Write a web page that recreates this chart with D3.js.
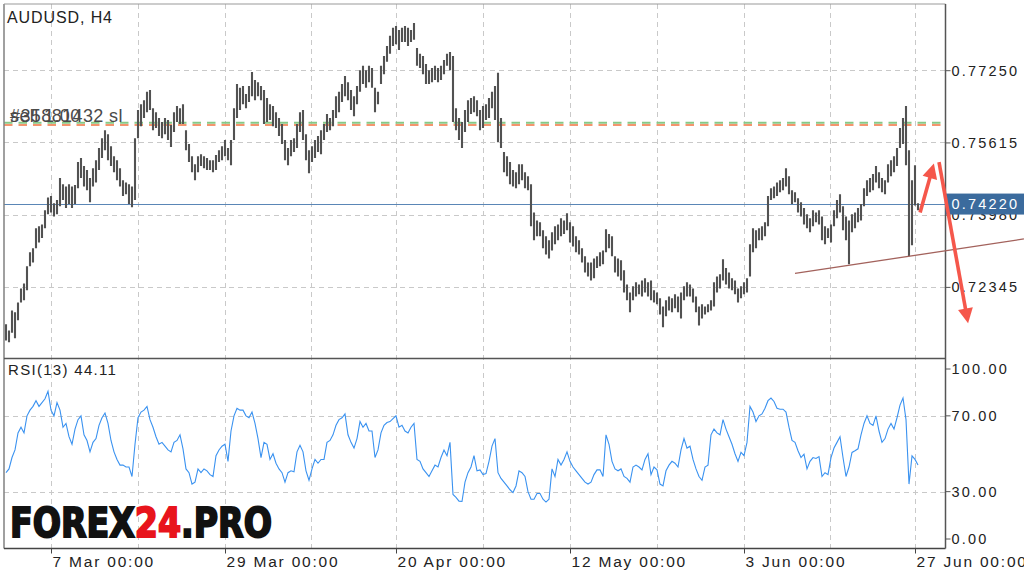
<!DOCTYPE html>
<html><head><meta charset="utf-8">
<script src="https://cdn.jsdelivr.net/npm/d3@7"></script>
<style>
html,body{margin:0;padding:0;background:#fff;}
svg{display:block;font-family:"Liberation Sans",Arial,sans-serif;}
</style></head><body>
<svg id="c" width="1024" height="577"></svg>
<script>
// ---- data ----
const symbolTitle = "AUDUSD, H4";
const rsiTitle = "RSI(13) 44.11";
const highs = [
0.7150,0.7136,0.7181,0.7177,0.7199,0.7231,0.7242,0.7281,0.7313,0.7322,
0.7367,0.7372,0.7376,0.7408,0.7437,0.7440,0.7424,0.7431,0.7481,0.7467,
0.7462,0.7467,0.7462,0.7465,0.7517,0.7526,0.7508,0.7499,0.7481,0.7503,
0.7521,0.7549,0.7571,0.7589,0.7580,0.7553,0.7530,0.7521,0.7503,0.7476,
0.7471,0.7467,0.7462,0.7571,0.7635,0.7648,0.7657,0.7676,0.7680,0.7639,
0.7630,0.7617,0.7608,0.7617,0.7612,0.7601,0.7630,0.7644,0.7639,0.7648,
0.7589,0.7558,0.7530,0.7512,0.7530,0.7535,0.7530,0.7526,0.7521,0.7521,
0.7533,0.7544,0.7553,0.7567,0.7549,0.7567,0.7639,0.7694,0.7685,0.7689,
0.7671,0.7689,0.7721,0.7703,0.7698,0.7689,0.7680,0.7662,0.7648,0.7644,
0.7630,0.7617,0.7603,0.7567,0.7549,0.7567,0.7571,0.7603,0.7630,0.7635,
0.7580,0.7544,0.7553,0.7567,0.7576,0.7589,0.7603,0.7626,0.7617,0.7635,
0.7666,0.7676,0.7694,0.7712,0.7698,0.7680,0.7666,0.7689,0.7725,0.7735,
0.7725,0.7735,0.7730,0.7685,0.7676,0.7735,0.7757,0.7780,0.7803,0.7821,
0.7825,0.7816,0.7821,0.7825,0.7821,0.7816,0.7832,0.7775,0.7762,0.7757,
0.7739,0.7725,0.7730,0.7735,0.7730,0.7735,0.7748,0.7762,0.7766,0.7757,
0.7639,0.7617,0.7608,0.7635,0.7657,0.7662,0.7666,0.7657,0.7635,0.7644,
0.7648,0.7662,0.7676,0.7689,0.7719,0.7617,0.7540,0.7530,0.7517,0.7499,
0.7494,0.7512,0.7512,0.7494,0.7485,0.7467,0.7403,0.7385,0.7381,0.7363,
0.7349,0.7340,0.7358,0.7372,0.7376,0.7390,0.7385,0.7401,0.7381,0.7372,
0.7349,0.7340,0.7322,0.7304,0.7290,0.7290,0.7299,0.7304,0.7313,0.7317,
0.7365,0.7354,0.7349,0.7304,0.7299,0.7295,0.7272,0.7240,0.7222,0.7236,
0.7245,0.7240,0.7249,0.7254,0.7245,0.7249,0.7227,0.7222,0.7209,0.7190,
0.7204,0.7213,0.7209,0.7218,0.7213,0.7222,0.7236,0.7245,0.7240,0.7231,
0.7213,0.7190,0.7195,0.7190,0.7195,0.7204,0.7245,0.7258,0.7263,0.7297,
0.7277,0.7267,0.7254,0.7249,0.7231,0.7236,0.7245,0.7254,0.7331,0.7367,
0.7363,0.7367,0.7372,0.7381,0.7440,0.7458,0.7462,0.7471,0.7476,0.7481,
0.7503,0.7485,0.7453,0.7449,0.7435,0.7426,0.7413,0.7399,0.7390,0.7408,
0.7403,0.7408,0.7394,0.7372,0.7367,0.7376,0.7408,0.7431,0.7444,0.7417,
0.7394,0.7385,0.7399,0.7403,0.7413,0.7422,0.7458,0.7476,0.7481,0.7490,
0.7508,0.7494,0.7481,0.7476,0.7512,0.7521,0.7530,0.7549,0.7594,0.7617,
0.7644,0.7544,0.7476,0.7510,0.7424];
const lows = [
0.7113,0.7109,0.7131,0.7118,0.7159,0.7199,0.7204,0.7227,0.7281,0.7290,
0.7322,0.7335,0.7345,0.7367,0.7399,0.7403,0.7394,0.7399,0.7417,0.7431,
0.7413,0.7422,0.7413,0.7422,0.7458,0.7481,0.7462,0.7453,0.7426,0.7462,
0.7471,0.7499,0.7526,0.7544,0.7521,0.7508,0.7494,0.7476,0.7462,0.7440,
0.7444,0.7422,0.7415,0.7431,0.7571,0.7598,0.7617,0.7630,0.7635,0.7589,
0.7594,0.7576,0.7571,0.7580,0.7567,0.7551,0.7585,0.7608,0.7603,0.7603,
0.7544,0.7517,0.7494,0.7476,0.7494,0.7508,0.7503,0.7499,0.7499,0.7494,
0.7499,0.7517,0.7521,0.7530,0.7521,0.7510,0.7567,0.7617,0.7635,0.7648,
0.7639,0.7653,0.7666,0.7657,0.7666,0.7657,0.7603,0.7608,0.7612,0.7598,
0.7594,0.7576,0.7558,0.7521,0.7510,0.7530,0.7540,0.7549,0.7585,0.7567,
0.7521,0.7492,0.7517,0.7526,0.7540,0.7535,0.7567,0.7585,0.7589,0.7598,
0.7617,0.7630,0.7653,0.7666,0.7657,0.7635,0.7621,0.7648,0.7676,0.7694,
0.7685,0.7698,0.7685,0.7630,0.7648,0.7694,0.7716,0.7744,0.7762,0.7780,
0.7784,0.7771,0.7789,0.7789,0.7780,0.7789,0.7794,0.7735,0.7730,0.7716,
0.7694,0.7694,0.7698,0.7703,0.7698,0.7703,0.7716,0.7735,0.7725,0.7608,
0.7589,0.7567,0.7549,0.7585,0.7608,0.7626,0.7630,0.7621,0.7589,0.7594,
0.7612,0.7617,0.7639,0.7612,0.7562,0.7549,0.7494,0.7485,0.7467,0.7462,
0.7458,0.7467,0.7476,0.7458,0.7453,0.7372,0.7340,0.7349,0.7349,0.7322,
0.7308,0.7299,0.7317,0.7331,0.7340,0.7349,0.7354,0.7363,0.7335,0.7326,
0.7313,0.7308,0.7290,0.7267,0.7258,0.7249,0.7254,0.7277,0.7281,0.7286,
0.7313,0.7322,0.7304,0.7267,0.7258,0.7249,0.7222,0.7204,0.7177,0.7204,
0.7213,0.7218,0.7213,0.7222,0.7213,0.7204,0.7199,0.7195,0.7172,0.7143,
0.7168,0.7181,0.7177,0.7186,0.7177,0.7163,0.7204,0.7213,0.7213,0.7199,
0.7177,0.7147,0.7163,0.7172,0.7177,0.7181,0.7190,0.7222,0.7231,0.7249,
0.7240,0.7231,0.7227,0.7218,0.7199,0.7209,0.7218,0.7222,0.7258,0.7313,
0.7322,0.7340,0.7340,0.7349,0.7372,0.7431,0.7435,0.7440,0.7449,0.7453,
0.7462,0.7444,0.7422,0.7426,0.7403,0.7394,0.7376,0.7367,0.7358,0.7372,
0.7381,0.7376,0.7340,0.7331,0.7345,0.7335,0.7372,0.7390,0.7403,0.7363,
0.7340,0.7286,0.7358,0.7367,0.7381,0.7385,0.7417,0.7440,0.7449,0.7453,
0.7471,0.7458,0.7449,0.7444,0.7471,0.7485,0.7494,0.7508,0.7549,0.7558,
0.7510,0.7304,0.7329,0.7419,0.7408];
const rsiValues = [
40,42,48,52,61,64,61,70,73,75,
78,75,77,79,83,73,70,77,73,64,
66,59,55,63,68,70,60,57,51,56,
58,65,69,71.5,66,57,51,47,44,44,
43,43,38,55,69,72,73,75,68,64,
59,55,56,54,52,51,56,57,60,52.6,
42,40,34,35,42,40,42,41,39,38,
49,52,54,55,46,62,70,74,73,73,
70,69,72,66,58,48,56,55,47,50,
45,42,40,35,40,41,40.5,51,54.5,51,
41,36,42,47,45,47,47,56,57,60,
65,68,69,71,60,56,53,58,67,64,
66,62,62,48,52,61,65,66.5,67,68.5,
70,64,65,62,61,64,66,47,46,42,
40,38,41,44,43,48,52,49,56,28.5,
27,25,24.8,35,40,43,49,41,41.5,39,
39.5,46,54,58,40,37,35,33,31,29.5,
33,41,40,38,30,26,26,29,29,26,
24.5,26,42,38,47,44,47,51,46,43,
41,39,37,35,34,35,39,41.5,41.5,38,
60,55,46,42,41,42,38,37,35,43,
44,43,41.5,47,50,39,43,41.5,34,33,
41,44,46,45,43,52,58,53,54,47,
42,38,36,43,44,60,63,61,60,68,
63,59,55,50,46,50.7,49,56,75,72,
67,70,71,74,78,79.4,77.6,74,73.5,73.5,
72,64,57,56,51.6,48,49.8,42,46,48,
47.5,48.5,38,40,39,48,53,56,59,48,
38,43,50.7,51.6,52.6,60,66,70,66,65,
70,62,56,58,63,66,63,69,75.7,79.4,
68,34,48.9,47,44.11];
const priceTicks = [0.77250, 0.75615, 0.73980, 0.72345];
const rsiTicks = [100, 70, 30, 0];
const rsiGrid = [70, 30];
const tickBars = [15, 73, 130, 188, 246, 303];
const tickLabels = ["7 Mar 00:00","29 Mar 00:00","20 Apr 00:00","12 May 00:00","3 Jun 00:00","27 Jun 00:00"];
const lastPrice = 0.74220;
const entryPrice = 0.7606;   // green dashed (sell 1.00)
const slPrice = 0.7601;      // orange dashed (sl)
const orderLabels = ["sell 1.00", "#35881432 sl"];
const trendBars = [263, 339.3];
const trendPrices = [0.7265, 0.7343];
const arrowUpBars = [304.7, 309.3], arrowUpPrices = [0.7403, 0.7514];
const arrowDownBars = [311, 320.7], arrowDownPrices = [0.7517, 0.7152];
const watermark = [["FOREX", "#111"], ["24", "#e8141c"], [".PRO", "#111"]];

// ---- layout ----
const L = 4, R = 945.5, T = 4, SEP = 358.5, B = 548.5;
const svg = d3.select("#c");
const N = highs.length;
const x = d3.scaleLinear().domain([0, N - 1]).range([6, 918]);
const y = d3.scaleLinear().domain([0.72345, 0.7725]).range([286.9, 70.2]);
const ry = d3.scaleLinear().domain([0, 100]).range([548.5, 359]);

svg.append("defs").append("clipPath").attr("id", "mainclip")
  .append("rect").attr("x", L).attr("y", T).attr("width", R - L).attr("height", SEP - T);

// grid
const gridX = [];
tickBars.forEach((b, i) => { gridX.push(x(b)); if (i < tickBars.length - 1) gridX.push((x(b) + x(tickBars[i + 1])) / 2); });
const grid = svg.append("g").attr("stroke", "#c9c9c9").attr("stroke-width", 1).attr("stroke-dasharray", "5,4").attr("fill", "none");
gridX.forEach(gx => grid.append("line").attr("x1", Math.round(gx) + 0.5).attr("x2", Math.round(gx) + 0.5).attr("y1", T).attr("y2", B));
priceTicks.forEach(p => grid.append("line").attr("x1", L).attr("x2", R).attr("y1", Math.round(y(p)) + 0.5).attr("y2", Math.round(y(p)) + 0.5));
rsiGrid.forEach(v => grid.append("line").attr("x1", L).attr("x2", R).attr("y1", Math.round(ry(v)) + 0.5).attr("y2", Math.round(ry(v)) + 0.5));

// order lines
const main = svg.append("g").attr("clip-path", "url(#mainclip)");
main.append("line").attr("x1", L).attr("x2", R).attr("y1", y(entryPrice)).attr("y2", y(entryPrice))
  .attr("stroke", "#86c886").attr("stroke-width", 2).attr("stroke-dasharray", "8.5,6");
main.append("line").attr("x1", L).attr("x2", R).attr("y1", y(slPrice)).attr("y2", y(slPrice))
  .attr("stroke", "#f4956e").attr("stroke-width", 2).attr("stroke-dasharray", "8.5,6");

// current price line
main.append("line").attr("x1", L).attr("x2", R).attr("y1", Math.round(y(lastPrice)) + 0.5).attr("y2", Math.round(y(lastPrice)) + 0.5)
  .attr("stroke", "#5a86b6").attr("stroke-width", 1);

// bars
main.append("g").selectAll("line").data(highs).join("line")
  .attr("x1", (d, i) => x(i)).attr("x2", (d, i) => x(i))
  .attr("y1", d => y(d)).attr("y2", (d, i) => y(lows[i]))
  .attr("stroke", "#525252").attr("stroke-width", 2.1);

// order labels
orderLabels.forEach(t => svg.append("text").attr("x", 10).attr("y", 121.5).text(t)
  .attr("font-size", 18).attr("fill", "#4a4a4a").attr("letter-spacing", 0.4));

// RSI line
svg.append("path").datum(rsiValues)
  .attr("d", d3.line().x((d, i) => x(i)).y(d => ry(d)))
  .attr("fill", "none").attr("stroke", "#3a92f0").attr("stroke-width", 1.1);

// frame
const frame = svg.append("g").attr("fill", "none");
frame.append("line").attr("x1", L).attr("x2", L).attr("y1", T).attr("y2", B).attr("stroke", "#808080").attr("stroke-width", 1.5);
frame.append("line").attr("x1", L).attr("x2", R).attr("y1", T).attr("y2", T).attr("stroke", "#999").attr("stroke-width", 1);
frame.append("line").attr("x1", L).attr("x2", R).attr("y1", SEP).attr("y2", SEP).attr("stroke", "#555").attr("stroke-width", 1.5);
frame.append("line").attr("x1", L).attr("x2", R).attr("y1", B).attr("y2", B).attr("stroke", "#444").attr("stroke-width", 1.5);

// price axis
const pAxis = svg.append("g").attr("transform", `translate(${R},0)`)
  .call(d3.axisRight(y).tickValues(priceTicks).tickFormat(d3.format(".5f")).tickSize(5).tickPadding(1));
const rAxis = svg.append("g").attr("transform", `translate(${R},0)`)
  .call(d3.axisRight(ry).tickValues(rsiTicks).tickFormat(d3.format(".2f")).tickSize(5).tickPadding(1));
rAxis.selectAll(".tick").attr("transform", d => `translate(0,${Math.max(369, Math.min(539, ry(d)))})`);
[pAxis, rAxis].forEach(a => {
  a.select(".domain").remove();
  a.selectAll("line").attr("stroke", "#555");
  a.selectAll("text").attr("font-family", "Liberation Sans, Arial, sans-serif").attr("font-size", 14.5)
    .attr("letter-spacing", 2.2).attr("fill", "#222").attr("x", 6).attr("dy", "0.35em");
});
svg.append("line").attr("x1", R).attr("x2", R).attr("y1", T).attr("y2", B).attr("stroke", "#555").attr("stroke-width", 1.5);

// last price label
svg.append("rect").attr("x", R).attr("y", y(lastPrice) - 10.5).attr("width", 1024 - R).attr("height", 21).attr("fill", "#3b6b9d");
svg.append("text").attr("x", R + 6).attr("y", y(lastPrice)).attr("dy", "0.35em").text(d3.format(".5f")(lastPrice))
  .attr("font-size", 14.5).attr("letter-spacing", 2.2).attr("fill", "#fff");

// time axis
const tAxis = svg.append("g").attr("transform", `translate(0,${B})`)
  .call(d3.axisBottom(x).tickValues(tickBars).tickFormat((d, i) => tickLabels[i]).tickSize(5));
tAxis.select(".domain").remove();
tAxis.selectAll("line").attr("stroke", "#444");
tAxis.selectAll("text").attr("font-family", "Liberation Sans, Arial, sans-serif").attr("font-size", 15.5)
  .attr("letter-spacing", 1.8).attr("fill", "#222").attr("text-anchor", "start").attr("x", 1).attr("y", 18.5).attr("dy", 0);

// trend line
svg.append("line").attr("x1", x(trendBars[0])).attr("y1", y(trendPrices[0])).attr("x2", x(trendBars[1])).attr("y2", y(trendPrices[1]))
  .attr("stroke", "#a3625c").attr("stroke-width", 1.3);

// arrows
function arrow(bars, prices) {
  const x1 = x(bars[0]), y1 = y(prices[0]), x2 = x(bars[1]), y2 = y(prices[1]);
  const dx = x2 - x1, dy = y2 - y1, len = Math.hypot(dx, dy), ux = dx / len, uy = dy / len;
  const hl = 15, hw = 7.5, bx = x2 - ux * hl, by = y2 - uy * hl;
  svg.append("line").attr("x1", x1).attr("y1", y1).attr("x2", bx + ux * 2).attr("y2", by + uy * 2)
    .attr("stroke", "#f5574b").attr("stroke-width", 3.6);
  svg.append("polygon").attr("points", [[x2, y2], [bx - uy * hw, by + ux * hw], [bx + uy * hw, by - ux * hw]].map(p => p.join(",")).join(" "))
    .attr("fill", "#f5574b");
}
arrow(arrowUpBars, arrowUpPrices);
arrow(arrowDownBars, arrowDownPrices);

// titles
svg.append("text").attr("x", 7).attr("y", 23).text(symbolTitle).attr("font-size", 16).attr("letter-spacing", 0.9).attr("fill", "#222");
svg.append("text").attr("x", 8).attr("y", 375).text(rsiTitle).attr("font-size", 15).attr("letter-spacing", 1.3).attr("fill", "#222");

// watermark
const wm = svg.append("g").attr("transform", "translate(10,537)");
const wt = wm.append("text").attr("font-family", "DejaVu Sans, sans-serif").attr("font-weight", "bold").attr("font-size", 40);
watermark.forEach(([t, c]) => wt.append("tspan").text(t).attr("fill", c).attr("stroke", c).attr("stroke-width", 2));
const bw = wt.node().getBBox().width;
wt.attr("transform", `scale(${262 / bw},1)`);
</script>
</body></html>
